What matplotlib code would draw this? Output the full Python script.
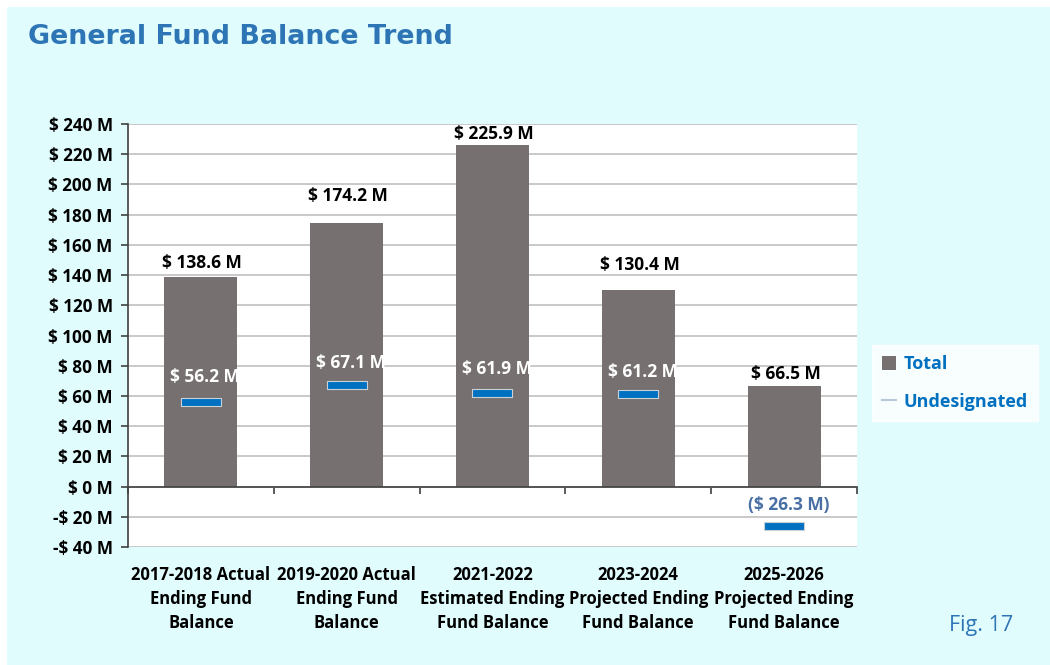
import matplotlib
matplotlib.use("Agg")
import matplotlib.pyplot as plt
from matplotlib.patches import Rectangle, Patch
from matplotlib.lines import Line2D
import numpy as np

categories = [
    "2017-2018 Actual\nEnding Fund\nBalance",
    "2019-2020 Actual\nEnding Fund\nBalance",
    "2021-2022\nEstimated Ending\nFund Balance",
    "2023-2024\nProjected Ending\nFund Balance",
    "2025-2026\nProjected Ending\nFund Balance",
]
total = [138.6, 174.2, 225.9, 130.4, 66.5]
undesignated = [56.2, 67.1, 61.9, 61.2, -26.3]
yticks = list(range(-40, 241, 20))

# label placement tweaks (points above the mark), as in the original layout
total_label_offset = [4, 13, 2, 11, 2]
und_label_offset = [18, 16, 17, 16, 15]

W, H = 1050, 665
fig = plt.figure(figsize=(W / 100, H / 100), dpi=100)
fig.patch.set_facecolor("white")
fig.add_artist(Rectangle((7 / W, 0), 1 - 7 / W, 1 - 7 / H, transform=fig.transFigure,
                         facecolor="#e0fcfd", edgecolor="none", zorder=0))

ax = fig.add_axes([128 / W, 1 - 547 / H, (857 - 128) / W, (547 - 124) / H])
ax.set_facecolor("white")
ax.set_zorder(1)

x = np.arange(len(categories))
ax.bar(x, total, width=0.5, color="#767170", zorder=2)

rect_marker = [(-20, -3.5), (20, -3.5), (20, 3.5), (-20, 3.5), (-20, -3.5)]
ax.plot(x, undesignated, linestyle="none", marker=rect_marker, markersize=29,
        markerfacecolor="#0070c0", markeredgecolor="#c8d0d8", markeredgewidth=0.8, zorder=4)

lab_font = "Open Sans"
for xi, t, off in zip(x, total, total_label_offset):
    ax.annotate(f"$ {t:.1f} M", (xi, t), xytext=(1, off), textcoords="offset points",
                ha="center", va="bottom", fontsize=12.5, fontweight="bold",
                family=lab_font, color="black", zorder=5)
for xi, u, off in zip(x, undesignated, und_label_offset):
    if u >= 0:
        txt, col = f"$ {u:.1f} M", "white"
    else:
        txt, col = f"($ {abs(u):.1f} M)", "#4a6fa5"
    ax.annotate(txt, (xi, u), xytext=(3, off), textcoords="offset points",
                ha="center", va="center", fontsize=12.5, fontweight="bold",
                family=lab_font, color=col, zorder=5)

ax.set_xlim(-0.5, len(categories) - 0.5)
ax.set_ylim(-40, 240)
ax.set_yticks(yticks)
ax.set_yticklabels([f"$ {v} M" if v >= 0 else f"-$ {abs(v)} M" for v in yticks],
                   fontsize=12.3, fontweight="bold", family=lab_font)
ax.yaxis.grid(True, color="#c0c0c0", linewidth=1.2, zorder=0)
ax.set_axisbelow(True)

ax.spines["top"].set_visible(False)
ax.spines["right"].set_visible(False)
ax.spines["left"].set_color("#404040")
ax.spines["left"].set_linewidth(1.2)
ax.spines["bottom"].set_position(("data", 0))
ax.spines["bottom"].set_color("#404040")
ax.spines["bottom"].set_linewidth(1.2)
ax.tick_params(axis="y", length=5, width=1.2, color="#404040", pad=6)

ax.set_xticks(np.arange(-0.5, len(categories), 1.0))
ax.set_xticklabels([])
ax.tick_params(axis="x", length=5, width=1.2, color="#404040", direction="out")
for xi, c in zip(x, categories):
    ax.annotate(c, (xi, -40), xytext=(0, -13.5), textcoords="offset points",
                ha="center", va="top", fontsize=12, fontweight="bold",
                family=lab_font, color="black", linespacing=1.43, annotation_clip=False)

fig.text(28 / W, 1 - 37 / H, "General Fund Balance Trend", ha="left", va="center",
         fontsize=19.4, fontweight="bold", family="DejaVu Sans", color="#2e75b6")
fig.text(981 / W, 1 - 626 / H, "Fig. 17", ha="center", va="center",
         fontsize=15.5, family=lab_font, color="#2e75b6")

handles = [Patch(facecolor="#767170", edgecolor="none"),
           Line2D([0], [0], color="#b8c8d8", linewidth=1.5)]
leg = fig.legend(handles, ["Total", "Undesignated"], loc="upper left",
                 bbox_to_anchor=(872 / W, 1 - 345 / H), borderaxespad=0,
                 frameon=True, fancybox=False,
                 prop={"family": lab_font, "weight": "bold", "size": 13},
                 handlelength=0.8, handleheight=0.8, handletextpad=0.4, labelspacing=1.1,
                 borderpad=0.55)
leg.get_frame().set_facecolor("white")
leg.get_frame().set_edgecolor("white")
for t in leg.get_texts():
    t.set_color("#0070c0")

fig.savefig("out.png", dpi=100)
